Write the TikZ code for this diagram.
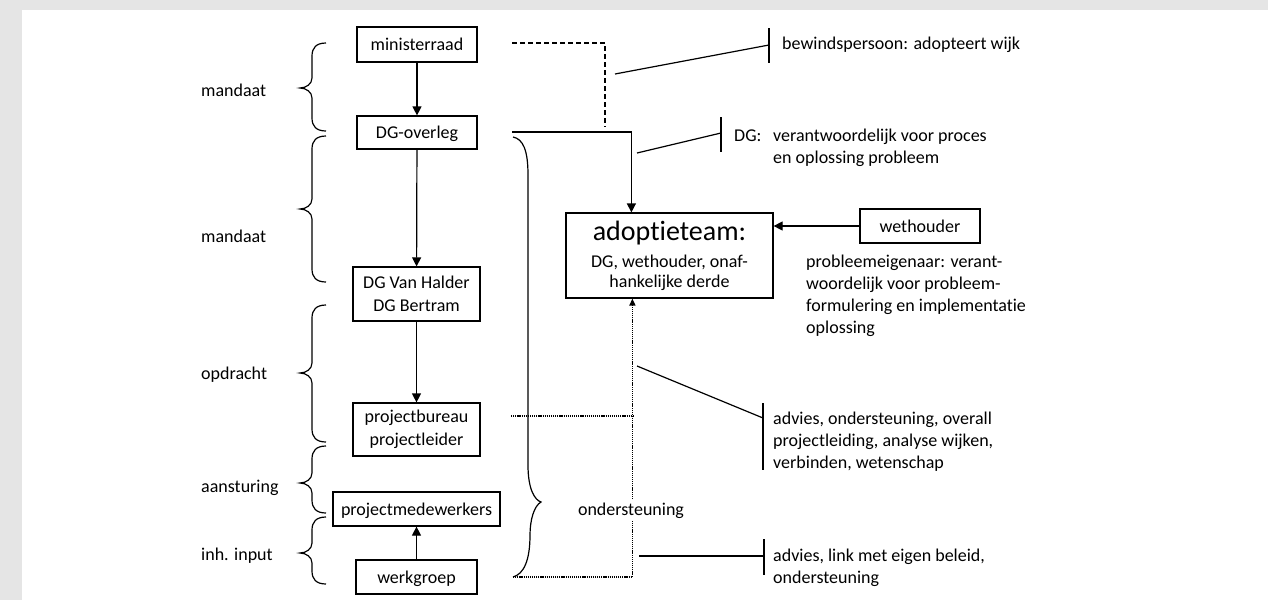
\documentclass[tikz,border=0pt]{standalone}
\usepackage{fontspec}
\setmainfont{Carlito}[Ligatures={NoCommon}]
\usetikzlibrary{arrows.meta}
\definecolor{bggray}{RGB}{229,229,229}
\newcommand\BrL[3]{%
  \draw[br] (326,#1) .. controls (316,#1) and (312,#1+5) .. (312,#1+13)
    -- (312,#2-10) .. controls (312,#2-4) and (306,#2) .. (300,#2)
    .. controls (306,#2) and (312,#2+4) .. (312,#2+10)
    -- (312,#3-13) .. controls (312,#3-5) and (316,#3) .. (326,#3);}
\begin{document}
\begin{tikzpicture}[x=1pt,y=-1pt,
  every node/.style={font=\fontsize{18}{22}\selectfont, inner sep=0pt},
  box/.style={draw, line width=1.2pt, align=center, font=\fontsize{18}{22.5}\selectfont},
  sl/.style={text height=12pt, text depth=0pt},
  ln/.style={line width=1.2pt},
  arr/.style={ln, -{Triangle[length=9pt,width=9pt]}},
  dsh/.style={line width=1.8pt, dash pattern=on 5pt off 3pt},
  dot/.style={line width=1.5pt, dash pattern=on 1.2pt off 0.9pt},
  lbl/.style={anchor=base west, align=left},
  br/.style={line width=1.2pt}]
\useasboundingbox (0,0) rectangle (1268,600);
\fill[bggray] (0,0) rectangle (1268,600);
\fill[white] (22,10) rectangle (1268,600);

% main column
\node[box, sl, minimum width=120pt, minimum height=35pt] (mr) at (417,44.5) {ministerraad};
\node[box, sl, minimum width=120pt, minimum height=33pt] (dgo) at (417,132.5) {DG-overleg};
\node[box, minimum width=127pt, minimum height=54pt] (dgvh) at (416.5,294) {DG Van Halder\\DG Bertram};
\node[box, minimum width=127pt, minimum height=53pt] (pb) at (416.5,429.5) {projectbureau\\projectleider};
\node[box, sl, minimum width=167pt, minimum height=34pt] (pm) at (416.5,509) {projectmedewerkers};
\node[box, sl, minimum width=121pt, minimum height=34pt] (wg) at (416.5,577) {werkgroep};

\draw[arr] (mr) -- (dgo);
\draw[arr] (dgo) -- (dgvh);
\draw[arr] (dgvh) -- (pb);
\draw[arr] (wg) -- (pm);

% adoptieteam and wethouder
\node[box, minimum width=207pt, minimum height=85pt, font=\fontsize{18}{20}\selectfont] (adopt) at (669.5,255.5)
  {\fontsize{28}{28}\selectfont adoptieteam:\\[7pt]\fontsize{18}{20}\selectfont DG, wethouder, onaf-\\hankelijke derde};
\node[box, sl, minimum width=120pt, minimum height=34pt] (weth) at (920,226) {wethouder};
\draw[arr] (weth.west) -- (weth.west -| adopt.east);

% left labels and braces
\node[lbl] (l1) at (201,96) {mandaat};
\node[lbl] (l2) at (201,242) {mandaat};
\node[lbl] (l3) at (201,379) {opdracht};
\node[lbl] (l4) at (201,492) {aansturing};
\node[lbl] (l5) at (201,560) {inh. input};
\BrL{43}{88}{131}
\BrL{136}{209}{282}
\BrL{305}{373}{442}
\BrL{446}{483}{513}
\BrL{517}{553}{584}

% connectors to adoptieteam
\coordinate (mrOut) at (512,43);
\coordinate (dshEnd) at (605,127);
\draw[dsh] (mrOut) -| (dshEnd);
\coordinate (dgoOut) at (512,132);
\draw[arr] (dgoOut) -| ([xshift=66pt]adopt.north west);

% big right brace
\draw[br] (513,137) .. controls (523,139) and (528,150) .. (528,175)
  -- (528,465) .. controls (528,490) and (535,500) .. (541,502)
  .. controls (534,506) and (530,520) .. (530,535)
  .. controls (530,560) and (524,574) .. (513,577);

% dotted support lines
\coordinate (pbOut) at (511,416);
\coordinate (pbIn) at (633,416);
\draw[dot] (pbOut) -- (pbIn);
\coordinate (wgOut) at (513,577);
\draw[dot, -{Triangle[length=7pt,width=6pt]}] (wgOut) -| ([xshift=67pt]adopt.south west);
\node[fill=white, inner sep=3pt, anchor=base] (ond) at (631,515) {ondersteuning};

% annotations (multi-line nodes: base = last line)
\node[lbl] (tbw) at (782,49) {bewindspersoon: adopteert wijk};
\coordinate (bwA) at (615,74); \coordinate (bwB) at (769,45);
\coordinate (bwT) at (769,28); \coordinate (bwU) at (769,63);
\draw[ln] (bwA) -- (bwB); \draw[ln] (bwT) -- (bwU);

\node[lbl] (tdg) at (734,141) {DG:};
\node[lbl] (tdgx) at (773,163) {verantwoordelijk voor proces\\en oplossing probleem};
\coordinate (dgA) at (637,153); \coordinate (dgB) at (721,133);
\coordinate (dgT) at (721,117); \coordinate (dgU) at (721,152);
\draw[ln] (dgA) -- (dgB); \draw[ln] (dgT) -- (dgU);

\node[lbl] (tpe) at (806,333.5) {probleemeigenaar: verant-\\woordelijk voor probleem-\\formulering en implementatie\\oplossing};

\node[lbl] (tadv1) at (773,468) {advies, ondersteuning, overall\\projectleiding, analyse wijken,\\verbinden, wetenschap};
\coordinate (a1A) at (637,366); \coordinate (a1B) at (763,418);
\coordinate (a1T) at (763,403); \coordinate (a1U) at (763,470);
\draw[ln] (a1A) -- (a1B); \draw[ln] (a1T) -- (a1U);

\node[lbl] (tadv2) at (773,583) {advies, link met eigen beleid,\\ondersteuning};
\coordinate (a2A) at (639,556); \coordinate (a2B) at (764,556);
\coordinate (a2T) at (764,539); \coordinate (a2U) at (764,575);
\draw[ln] (a2A) -- (a2B); \draw[ln] (a2T) -- (a2U);
\end{tikzpicture}
\end{document}
